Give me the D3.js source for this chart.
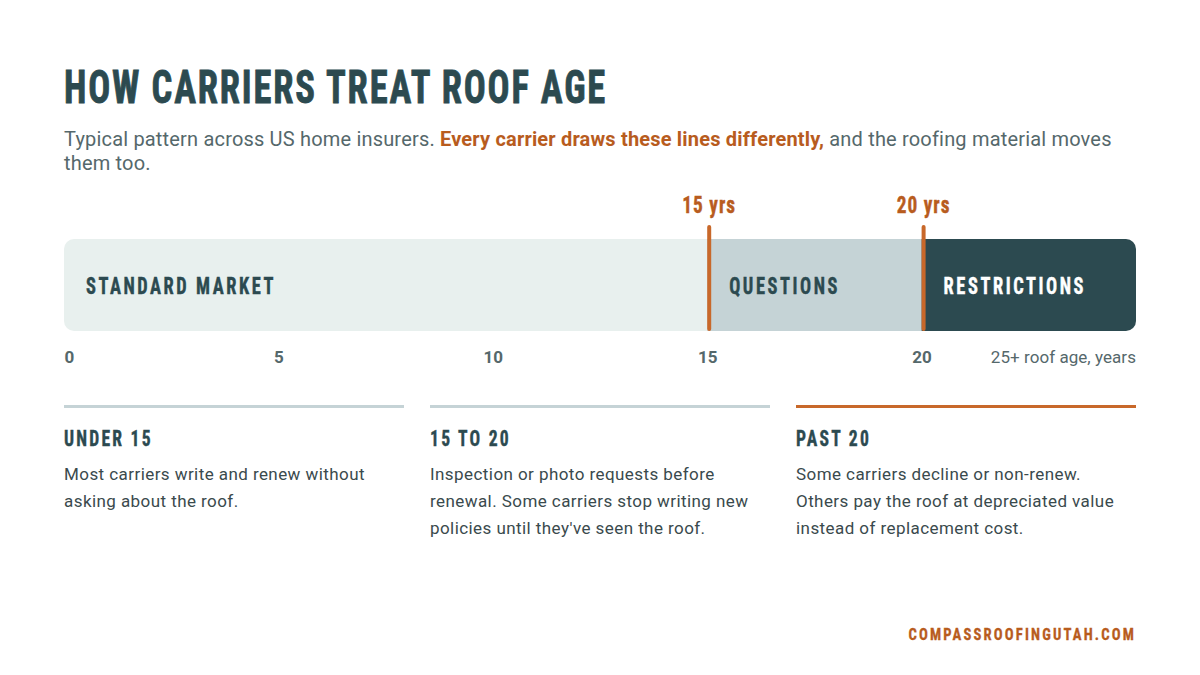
<!DOCTYPE html>
<html>
<head>
<meta charset="utf-8">
<script src="https://cdn.jsdelivr.net/npm/d3@7"></script>
<style>
  html, body { margin: 0; padding: 0; background: #fff; }
  svg { display: block; }
</style>
</head>
<body>
<svg id="chart" width="1200" height="675"></svg>
<script>
// zones along the roof age axis
const zoneNames = ['STANDARD MARKET', 'QUESTIONS', 'RESTRICTIONS'];
const zoneStart = [0, 15, 20];
const zoneEnd = [15, 20, 25];
const zoneColors = ['#e8f0ee', '#c5d3d6', '#2c4a50'];
const zoneText = ['#2c4a50', '#2c4a50', '#ffffff'];
const tickValues = [0, 5, 10, 15, 20];
const markerValues = [15, 20];
const markerLabels = ['15 yrs', '20 yrs'];

const cardHeads = ['UNDER 15', '15 TO 20', 'PAST 20'];
const cardRule = ['#c5d3d6', '#c5d3d6', '#c8682a'];
const cardLines = [
  ['Most carriers write and renew without', 'asking about the roof.'],
  ['Inspection or photo requests before', 'renewal. Some carriers stop writing new', "policies until they've seen the roof."],
  ['Some carriers decline or non-renew.', 'Others pay the roof at depreciated value', 'instead of replacement cost.']
];

const DARK = '#2c4a50', ORANGE = '#b85c1e', BAR_ORANGE = '#c8682a', GREY = '#55686b';
const HEAD = '"Roboto Condensed", "Liberation Sans Narrow", Roboto, sans-serif';
const BODY = 'Roboto, sans-serif';

const svg = d3.select('#chart');
const x = d3.scaleLinear().domain([0, 25]).range([64, 1136]);

// condensed heading: no Oswald here, so squeeze the narrow face sideways
function head(parent, tx, ty, sx, size, spacing, fill, str, anchor) {
  return parent.append('text')
    .attr('transform', `translate(${tx},${ty}) scale(${sx},1)`)
    .attr('text-anchor', anchor || 'start')
    .attr('font-family', HEAD).attr('font-weight', 700).attr('font-size', size)
    .attr('letter-spacing', spacing)
    .attr('fill', fill).attr('stroke', fill).attr('stroke-width', size * 0.018)
    .text(str);
}

// title + subtitle
head(svg, 64, 103, 0.794, 46, 2.3, DARK, 'HOW CARRIERS TREAT ROOF AGE');

const sub = svg.append('text').attr('x', 64).attr('y', 145.5)
  .attr('font-family', BODY).attr('font-size', 20).attr('letter-spacing', 0.18).attr('fill', GREY);
sub.append('tspan').text('Typical pattern across US home insurers. ');
sub.append('tspan').attr('font-weight', 700).attr('fill', ORANGE).text('Every carrier draws these lines differently,');
sub.append('tspan').text(' and the roofing material moves');
svg.append('text').attr('x', 64).attr('y', 170)
  .attr('font-family', BODY).attr('font-size', 20).attr('letter-spacing', 0.18).attr('fill', GREY)
  .text('them too.');

// stacked bar, clipped for the rounded ends
const barY = 239, barH = 92;
svg.append('defs').append('clipPath').attr('id', 'barClip')
  .append('rect').attr('x', x(0)).attr('y', barY)
  .attr('width', x(25) - x(0)).attr('height', barH).attr('rx', 10);

const bar = svg.append('g').attr('clip-path', 'url(#barClip)');
bar.selectAll('rect').data(zoneNames).join('rect')
  .attr('x', (d, i) => x(zoneStart[i]))
  .attr('y', barY)
  .attr('width', (d, i) => x(zoneEnd[i]) - x(zoneStart[i]))
  .attr('height', barH)
  .attr('fill', (d, i) => zoneColors[i]);

zoneNames.forEach((d, i) => {
  head(svg, x(zoneStart[i]) + 22, barY + barH / 2 + 8.5, 0.8, 23, 3.2, zoneText[i], d);
});

// threshold markers
svg.selectAll('.marker').data(markerValues).join('rect')
  .attr('class', 'marker')
  .attr('x', d => x(d)).attr('width', 4)
  .attr('y', 225).attr('height', 106).attr('rx', 2)
  .attr('fill', BAR_ORANGE);

markerValues.forEach((d, i) => {
  head(svg, x(d) + 2, 213, 0.84, 23, 1.2, ORANGE, markerLabels[i], 'middle');
});

// axis labels
const axis = svg.append('g').attr('transform', 'translate(0,363)');
axis.call(d3.axisBottom(x).tickValues(tickValues).tickSize(0).tickPadding(0));
axis.select('.domain').remove();
axis.selectAll('text')
  .attr('dy', 0)
  .attr('y', 0)
  .attr('text-anchor', d => d === 0 ? 'start' : 'middle')
  .attr('font-family', BODY).attr('font-weight', 700).attr('font-size', 17)
  .attr('fill', GREY);

svg.append('text').attr('x', 1136).attr('y', 363)
  .attr('text-anchor', 'end')
  .attr('font-family', BODY).attr('font-size', 17).attr('letter-spacing', 0.05).attr('fill', GREY)
  .text('25+ roof age, years');

// three notes below
const cardX = d3.scalePoint().domain(cardHeads).range([64, 796]);
const cards = svg.selectAll('.card').data(cardHeads).join('g')
  .attr('class', 'card')
  .attr('transform', d => `translate(${cardX(d)},0)`);

cards.append('rect').attr('y', 405).attr('width', 340).attr('height', 3)
  .attr('fill', (d, i) => cardRule[i]);
cards.each(function(d, i) {
  const card = d3.select(this);
  head(card, 0, 446, 0.8, 22, 2.8, DARK, d);
  card.selectAll('.ln').data(cardLines[i]).join('text')
    .attr('class', 'ln')
    .attr('y', (l, j) => 480 + j * 27)
    .attr('font-family', BODY).attr('font-size', 17).attr('letter-spacing', 0.43).attr('fill', '#3a4a4d')
    .text(l => l);
});

head(svg, 1136, 640, 0.863, 17, 2.5, ORANGE, 'COMPASSROOFINGUTAH.COM', 'end');
</script>
</body>
</html>
